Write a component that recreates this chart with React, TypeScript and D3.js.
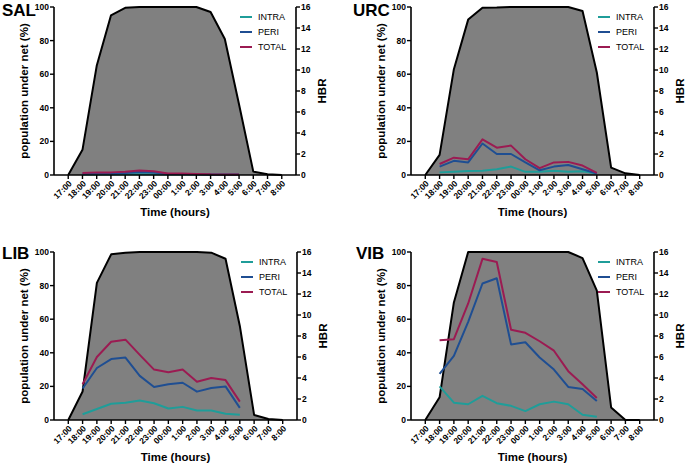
import React from "react";
import * as d3 from "d3";

const hours = ["17:00","18:00","19:00","20:00","21:00","22:00","23:00","00:00","1:00","2:00","3:00","4:00","5:00","6:00","7:00","8:00"];
const lineHours = hours.slice(1, 13);
const seriesNames = ["INTRA", "PERI", "TOTAL"];
const seriesColors = ["#1f9d99", "#1f4e92", "#9b1b52"];
const leftTicks = [0, 20, 40, 60, 80, 100];
const rightTicks = [0, 2, 4, 6, 8, 10, 12, 14, 16];

// population under net (%)
const salNet = [0, 15, 65, 95, 99.5, 100, 100, 100, 100, 100, 97, 81, 42, 2, 0.5, 0];
const urcNet = [0, 12, 63, 92.5, 99.6, 99.7, 100, 100, 100, 100, 100, 97.6, 61, 4.4, 1, 0];
const libNet = [0, 17, 81.6, 98.6, 99.6, 100, 100, 100, 100, 100, 99.6, 96, 56, 3, 0.6, 0];
const vibNet = [0, 13.5, 70, 100, 100, 100, 100, 100, 100, 100, 100, 96.4, 77, 7.5, 0, 0];

// HBR
const salIntra = [0.05, 0.05, 0.05, 0.07, 0.08, 0.07, 0.05, 0.05, 0.04, 0.03, 0.03, 0.03];
const salPeri = [0.12, 0.15, 0.15, 0.18, 0.28, 0.24, 0.1, 0.1, 0.07, 0.05, 0.05, 0.05];
const salTotal = [0.2, 0.25, 0.25, 0.3, 0.42, 0.36, 0.15, 0.15, 0.1, 0.06, 0.05, 0.05];

const urcIntra = [0.25, 0.3, 0.38, 0.4, 0.55, 0.8, 0.3, 0.3, 0.4, 0.3, 0.35, 0.15];
const urcPeri = [0.8, 1.35, 1.2, 3.0, 2.0, 2.0, 1.2, 0.45, 0.8, 0.95, 0.55, 0.15];
const urcTotal = [1.05, 1.65, 1.5, 3.4, 2.6, 2.8, 1.5, 0.65, 1.2, 1.25, 0.9, 0.2];

const libIntra = [0.55, 1.05, 1.55, 1.65, 1.85, 1.6, 1.1, 1.25, 0.9, 0.9, 0.6, 0.5];
const libPeri = [3.0, 4.95, 5.8, 5.95, 4.2, 3.15, 3.4, 3.55, 2.7, 3.05, 3.2, 1.15];
const libTotal = [3.4, 6.0, 7.45, 7.65, 6.2, 4.8, 4.55, 4.8, 3.65, 4.0, 3.8, 1.75];

const vibIntra = [3.2, 1.65, 1.5, 2.3, 1.6, 1.35, 0.85, 1.5, 1.75, 1.5, 0.5, 0.3];
const vibPeri = [4.4, 6.1, 9.35, 13.0, 13.5, 7.2, 7.4, 5.95, 4.8, 3.15, 2.95, 1.8];
const vibTotal = [7.6, 7.7, 11.1, 15.35, 15.05, 8.6, 8.3, 7.5, 6.6, 4.65, 3.4, 2.1];

const panelNames = ["SAL", "URC", "LIB", "VIB"];
const panelNet = [salNet, urcNet, libNet, vibNet];
const panelLines = [
  [salIntra, salPeri, salTotal],
  [urcIntra, urcPeri, urcTotal],
  [libIntra, libPeri, libTotal],
  [vibIntra, vibPeri, vibTotal],
];

const FONT = "'Liberation Sans', Arial, Helvetica, sans-serif";

type Layout = { left: number; right: number; top: number; bottom: number; titleX: number; titleY: number };
const layouts: Layout[] = [
  { left: 54, right: 296, top: 7, bottom: 175, titleX: 2, titleY: 16 },
  { left: 411, right: 654, top: 7, bottom: 175, titleX: 353, titleY: 16 },
  { left: 54, right: 297, top: 252, bottom: 420, titleX: 2, titleY: 259 },
  { left: 411, right: 654, top: 252, bottom: 420, titleX: 356, titleY: 259 },
];

function Panel({ idx }: { idx: number }) {
  const L = layouts[idx];
  const x = d3.scalePoint<string>().domain(hours).range([L.left, L.right]).padding(1);
  const yL = d3.scaleLinear().domain([0, 100]).range([L.bottom, L.top]);
  const yR = d3.scaleLinear().domain([0, 16]).range([L.bottom, L.top]);
  const net = panelNet[idx];
  const area = d3.area<number>()
    .x((_, i) => x(hours[i]) as number)
    .y0(L.bottom)
    .y1((d) => yL(d));
  const topLine = d3.line<number>()
    .x((_, i) => x(hours[i]) as number)
    .y((d) => yL(d));
  const hbrLine = d3.line<number>()
    .x((_, i) => x(lineHours[i]) as number)
    .y((d) => yR(d));
  const midY = (L.top + L.bottom) / 2;
  return (
    <g>
      <text x={L.titleX} y={L.titleY} fontSize={17} fontWeight="bold" fontFamily={FONT}>{panelNames[idx]}</text>
      <path d={area(net) || ""} fill="#808080" stroke="none" />
      <path d={topLine(net) || ""} fill="none" stroke="#000" strokeWidth={2} strokeLinejoin="round" />
      {panelLines[idx].map((vals, s) => (
        <path key={s} d={hbrLine(vals) || ""} fill="none" stroke={seriesColors[s]} strokeWidth={2} strokeLinejoin="round" />
      ))}
      {/* left axis */}
      <line x1={L.left} x2={L.left} y1={L.top} y2={L.bottom} stroke="#000" strokeWidth={1.6} />
      {leftTicks.map((t) => (
        <g key={"l" + t}>
          <line x1={L.left - 4} x2={L.left} y1={yL(t)} y2={yL(t)} stroke="#000" strokeWidth={1.4} />
          <text x={L.left - 5} y={yL(t)} dy="0.35em" textAnchor="end" fontSize={8.5} fontWeight="bold" fontFamily={FONT}>{t}</text>
        </g>
      ))}
      {/* right axis */}
      <line x1={L.right} x2={L.right} y1={L.top} y2={L.bottom} stroke="#000" strokeWidth={1.6} />
      {rightTicks.map((t) => (
        <g key={"r" + t}>
          <line x1={L.right} x2={L.right + 4} y1={yR(t)} y2={yR(t)} stroke="#000" strokeWidth={1.4} />
          <text x={L.right + 5} y={yR(t)} dy="0.35em" textAnchor="start" fontSize={8.5} fontWeight="bold" fontFamily={FONT}>{t}</text>
        </g>
      ))}
      {/* bottom axis */}
      <line x1={L.left} x2={L.right} y1={L.bottom} y2={L.bottom} stroke="#000" strokeWidth={1.6} />
      {hours.map((h) => {
        const px = x(h) as number;
        return (
          <g key={"b" + h}>
            <line x1={px} x2={px} y1={L.bottom} y2={L.bottom + 4} stroke="#000" strokeWidth={1.4} />
            <text transform={`translate(${px + 2},${L.bottom + 7}) rotate(-45)`} textAnchor="end" dy="0.35em" fontSize={8.5} fontWeight="bold" fontFamily={FONT}>{h}</text>
          </g>
        );
      })}
      {/* axis titles */}
      <text transform={`translate(${L.left - 26},${midY}) rotate(-90)`} textAnchor="middle" fontSize={11.5} fontWeight="bold" fontFamily={FONT}>population under net (%)</text>
      <text transform={`translate(${L.right + 30},${midY}) rotate(-90)`} textAnchor="middle" fontSize={11.5} fontWeight="bold" fontFamily={FONT}>HBR</text>
      <text x={(L.left + L.right) / 2} y={L.bottom + 41} textAnchor="middle" fontSize={11.5} fontWeight="bold" fontFamily={FONT}>Time (hours)</text>
      {/* legend */}
      {seriesNames.map((n, s) => (
        <g key={n}>
          <line x1={L.right - 56} x2={L.right - 44} y1={L.top + 10 + s * 15} y2={L.top + 10 + s * 15} stroke={seriesColors[s]} strokeWidth={2} />
          <text x={L.right - 38} y={L.top + 10 + s * 15} dy="0.35em" fontSize={9} fontFamily={FONT}>{n}</text>
        </g>
      ))}
    </g>
  );
}

export default function App() {
  return (
    <svg width={685} height={464} style={{ position: "absolute", left: 0, top: 0, background: "#fff" }}>
      <rect width={685} height={464} fill="#fff" />
      {[0, 1, 2, 3].map((i) => <Panel key={i} idx={i} />)}
    </svg>
  );
}
